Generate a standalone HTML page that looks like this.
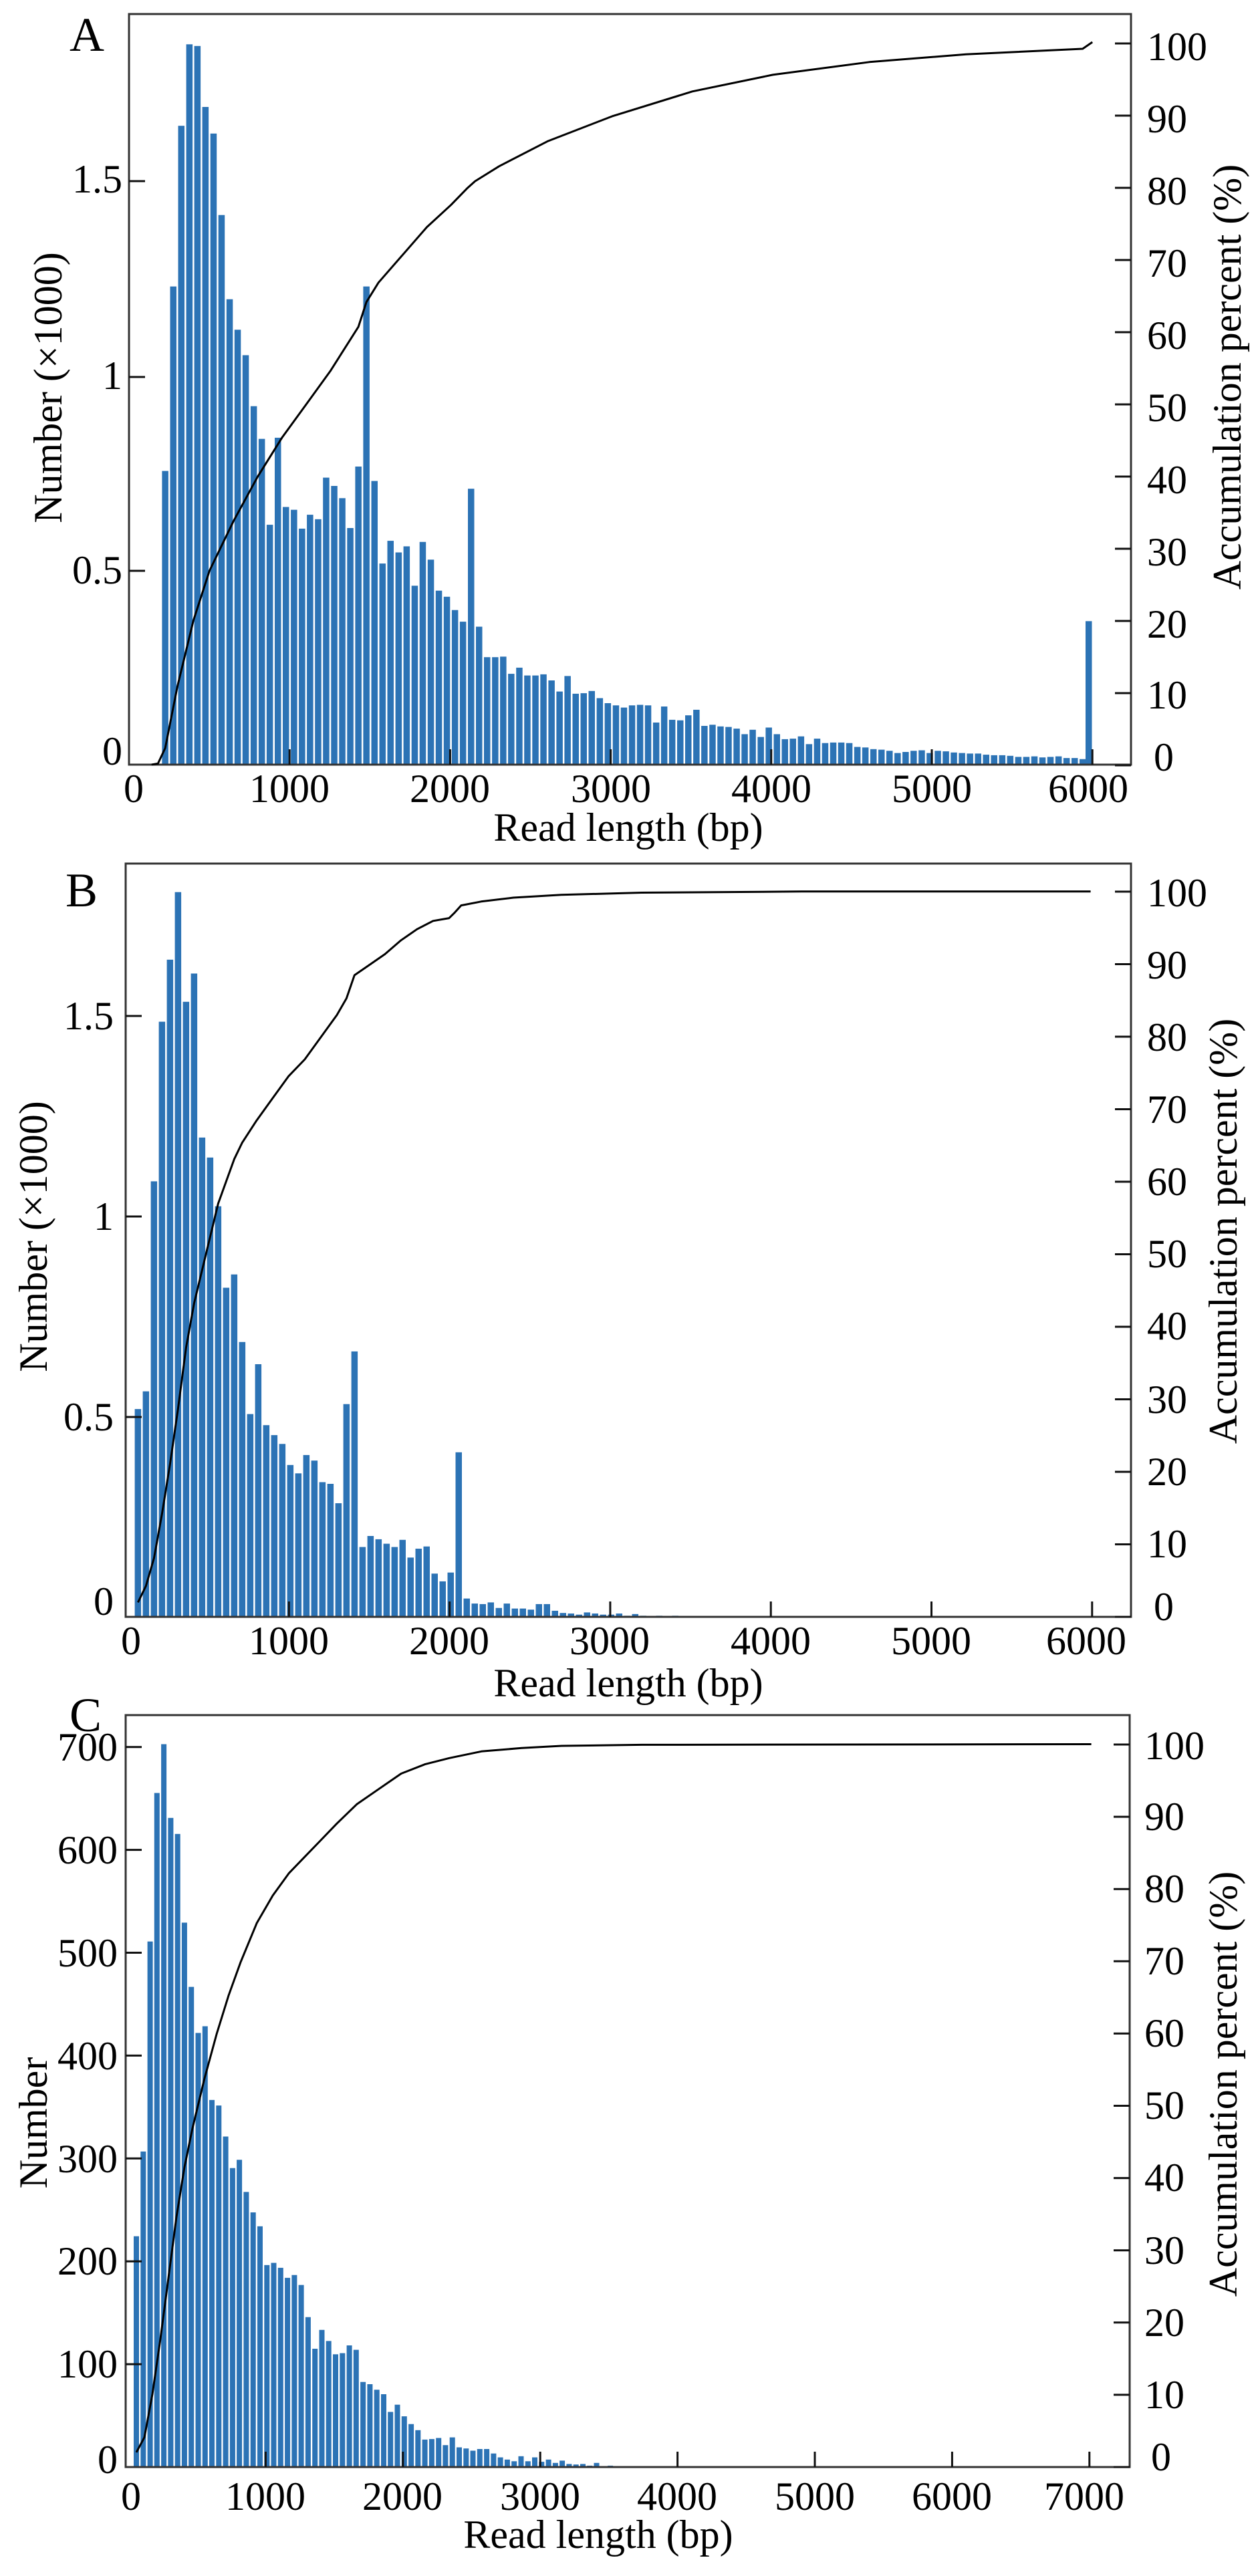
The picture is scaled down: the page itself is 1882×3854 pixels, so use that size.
<!DOCTYPE html>
<html><head><meta charset="utf-8"><style>
html,body{margin:0;padding:0;background:#fff;}
svg{display:block;}
text{font-family:"Liberation Serif",serif;fill:#000;}
</style></head><body>
<svg id="s" width="1882" height="3854" viewBox="0 0 1882 3854" xmlns="http://www.w3.org/2000/svg">
<rect width="1882" height="3854" fill="#fff"/>
<g id="bars"></g>
<g id="frames" fill="none" stroke="#333" stroke-width="3">
<rect x="193" y="21" width="1499" height="1123"/>
<rect x="188" y="1292" width="1504" height="1127"/>
<rect x="188" y="2566" width="1502" height="1125"/>
</g>
<g id="ticks" stroke="#111" stroke-width="3"></g>
<g id="curves" fill="none" stroke="#000" stroke-width="3"></g>

<!-- Panel A text -->
<text x="104" y="76" font-size="72">A</text>
<g font-size="60" text-anchor="end" dominant-baseline="central">
<text x="183" y="268">1.5</text><text x="183" y="562">1</text><text x="183" y="853">0.5</text><text x="183" y="1124">0</text>
</g>
<g font-size="60" text-anchor="start" dominant-baseline="central">
<text x="1716" y="70">100</text><text x="1716" y="178">90</text><text x="1716" y="286">80</text><text x="1716" y="394">70</text><text x="1716" y="502">60</text><text x="1716" y="610">50</text><text x="1716" y="718">40</text><text x="1716" y="826">30</text><text x="1716" y="934">20</text><text x="1716" y="1040">10</text><text x="1726" y="1133">0</text>
</g>
<g font-size="60" text-anchor="middle" dominant-baseline="central">
<text x="200" y="1180">0</text><text x="433" y="1180">1000</text><text x="673" y="1180">2000</text><text x="914" y="1180">3000</text><text x="1154" y="1180">4000</text><text x="1394" y="1180">5000</text><text x="1628" y="1180">6000</text>
</g>
<text x="940" y="1258" font-size="60" text-anchor="middle">Read length (bp)</text>
<text transform="translate(72,580) rotate(-90)" font-size="60" text-anchor="middle" dominant-baseline="central">Number (×1000)</text>
<text transform="translate(1836,564) rotate(-90)" font-size="60" text-anchor="middle" dominant-baseline="central">Accumulation percent (%)</text>

<!-- Panel B text -->
<text x="98" y="1356" font-size="72">B</text>
<g font-size="60" text-anchor="end" dominant-baseline="central">
<text x="170" y="1520">1.5</text><text x="170" y="1820">1</text><text x="170" y="2120">0.5</text><text x="170" y="2396">0</text>
</g>
<g font-size="60" text-anchor="start" dominant-baseline="central">
<text x="1716" y="1336">100</text><text x="1716" y="1444">90</text><text x="1716" y="1552">80</text><text x="1716" y="1660">70</text><text x="1716" y="1768">60</text><text x="1716" y="1876">50</text><text x="1716" y="1984">40</text><text x="1716" y="2094">30</text><text x="1716" y="2202">20</text><text x="1716" y="2310">10</text><text x="1726" y="2404">0</text>
</g>
<g font-size="60" text-anchor="middle" dominant-baseline="central">
<text x="196" y="2455">0</text><text x="432" y="2455">1000</text><text x="672" y="2455">2000</text><text x="912" y="2455">3000</text><text x="1153" y="2455">4000</text><text x="1393" y="2455">5000</text><text x="1625" y="2455">6000</text>
</g>
<text x="940" y="2538" font-size="60" text-anchor="middle">Read length (bp)</text>
<text transform="translate(50,1850) rotate(-90)" font-size="60" text-anchor="middle" dominant-baseline="central">Number (×1000)</text>
<text transform="translate(1830,1842) rotate(-90)" font-size="60" text-anchor="middle" dominant-baseline="central">Accumulation percent (%)</text>

<!-- Panel C text -->
<text x="104" y="2590" font-size="72">C</text>
<g font-size="60" text-anchor="end" dominant-baseline="central">
<text x="176" y="2614">700</text><text x="176" y="2768">600</text><text x="176" y="2922">500</text><text x="176" y="3076">400</text><text x="176" y="3230">300</text><text x="176" y="3383">200</text><text x="176" y="3537">100</text><text x="176" y="3680">0</text>
</g>
<g font-size="60" text-anchor="start" dominant-baseline="central">
<text x="1712" y="2612">100</text><text x="1712" y="2718">90</text><text x="1712" y="2826">80</text><text x="1712" y="2934">70</text><text x="1712" y="3042">60</text><text x="1712" y="3150">50</text><text x="1712" y="3258">40</text><text x="1712" y="3367">30</text><text x="1712" y="3475">20</text><text x="1712" y="3583">10</text><text x="1722" y="3676">0</text>
</g>
<g font-size="60" text-anchor="middle" dominant-baseline="central">
<text x="196" y="3735">0</text><text x="397" y="3735">1000</text><text x="602" y="3735">2000</text><text x="808" y="3735">3000</text><text x="1013" y="3735">4000</text><text x="1219" y="3735">5000</text><text x="1424" y="3735">6000</text><text x="1622" y="3735">7000</text>
</g>
<text x="895" y="3812" font-size="60" text-anchor="middle">Read length (bp)</text>
<text transform="translate(50,3176) rotate(-90)" font-size="60" text-anchor="middle" dominant-baseline="central">Number</text>
<text transform="translate(1830,3118) rotate(-90)" font-size="60" text-anchor="middle" dominant-baseline="central">Accumulation percent (%)</text>
</svg>
<script>
(function(){
var NS="http://www.w3.org/2000/svg";
var gb=document.getElementById("bars"),gt=document.getElementById("ticks"),gc=document.getElementById("curves");
function el(g,n,a){var e=document.createElementNS(NS,n);for(var k in a)e.setAttribute(k,a[k]);g.appendChild(e);return e;}
var col="#2c73b5";
function bars(zys,zx0,dzx,xf,x0z,x0r,yoff,base,w){
 for(var i=0;i<zys.length;i++){var zx=zx0+i*dzx;var cx=x0r+(zx-x0z)*xf;var top=yoff+zys[i]*0.829;
  if(base-top<1)top=base-1.5;
  el(gb,"rect",{x:(cx-w/2).toFixed(1),y:top.toFixed(1),width:w,height:(base-top).toFixed(1),fill:col});}
}
function curve(pts,xf,x0z,x0r,yoff){
 var d="";for(var i=0;i<pts.length;i++){var x=x0r+(pts[i][0]-x0z)*xf,y=yoff+pts[i][1]*0.829;d+=(i?"L":"M")+x.toFixed(1)+","+y.toFixed(1);}
 el(gc,"path",{d:d,"stroke-linejoin":"round"});
}
var A=[850,517,227,80,83,193,241,388,540,595,641,733,792,947,790,915,920,954,929,937,862,877,899,953,842,517,868,1017,976,997,986,1057,978,1010,1066,1077,1101,1122,882,1131,1186,1186,1185,1216,1205,1219,1219,1217,1228,1248,1220,1252,1251,1247,1260,1269,1273,1277,1273,1272,1273,1304,1275,1299,1300,1291,1281,1310,1308,1311,1312,1315,1325,1317,1330,1313,1325,1334,1333,1329,1343,1333,1341,1340,1340,1341,1348,1349,1352,1353,1355,1359,1357,1355,1354,1359,1355,1356,1358,1359,1360,1360,1362,1363,1363,1364,1366,1366,1365,1367,1366,1365,1368,1368,1370];
bars(A,205,10,1.204,160,193,0,1144,9.5);
el(gb,"rect",{x:1624,y:(1121*0.829).toFixed(1),width:9.5,height:(1144-1121*0.829).toFixed(1),fill:col});
curve([[188,1380],[196,1378],[205,1350],[220,1240],[240,1120],[260,1030],[290,940],[320,860],[350,790],[380,730],[410,670],[445,590],[455,545],[470,510],[500,460],[530,410],[560,370],[580,340],[590,327],[620,300],[680,255],[760,210],[860,165],[960,135],[1080,112],[1200,98],[1345,88],[1357,76]],1.204,160,193,0);
var B=[1011,979,600,312,200,78,276,225,521,557,645,792,768,890,1020,930,1040,1058,1074,1112,1127,1094,1104,1143,1146,1181,1002,907,1260,1240,1246,1254,1260,1247,1279,1263,1259,1308,1322,1306,1089,1353,1362,1363,1360,1370,1362,1371,1371,1373,1363,1363,1375,1379,1380,1382,1378,1380,1382,1382,1380,1384,1381,1384,1385,1384,1385,1384,1385];
bars(B,172,10,1.1997,160,192,1270,2419,9.5);
curve([[172,1360],[182,1330],[192,1280],[202,1200],[212,1110],[222,1010],[232,900],[242,820],[252,760],[262,700],[272,640],[282,600],[292,560],[302,530],[320,490],[340,450],[360,410],[380,380],[400,340],[420,300],[432,270],[442,228],[460,210],[480,190],[500,165],[520,145],[540,130],[560,125],[567,115],[575,102],[600,95],[640,88],[700,83],[800,79],[1000,77],[1360,77]],1.1997,160,192,1270);
var C=[955,802,423,155,67,200,229,389,505,588,576,709,719,775,832,817,875,912,937,1007,1003,1012,1030,1025,1043,1101,1158,1124,1144,1168,1166,1152,1160,1218,1222,1232,1240,1272,1259,1280,1294,1305,1322,1321,1319,1332,1318,1336,1338,1342,1339,1339,1347,1354,1358,1361,1352,1361,1354,1362,1358,1364,1360,1366,1367,1366,1369,1364,1370,1369,1370,1370,1371,1370,1371,1371,1370,1371];
bars(C,170,8.56,1.2005,160,192,2554,3691,8);
curve([[170,1345],[180,1318],[190,1240],[200,1140],[210,1030],[220,920],[230,830],[240,760],[255,670],[270,590],[285,520],[300,460],[320,390],[340,340],[360,300],[380,270],[400,240],[420,210],[445,175],[470,150],[500,120],[530,103],[560,92],[600,80],[650,74],[700,70],[800,68],[1360,67]],1.2005,160,192,2554);
function tk(x1,y1,x2,y2){el(gt,"line",{x1:x1,y1:y1,x2:x2,y2:y2});}
var i;
for(i=1;i<=6;i++){var x=193+240.2*i;tk(x,1144,x,1121);}
tk(193,271,217,271);tk(193,564,217,564);tk(193,854,217,854);
for(i=0;i<=10;i++){var y=1145-108*i;tk(1668,y,1692,y);}
for(i=1;i<=6;i++){var x=192+240.3*i;tk(x,2419,x,2396);}
tk(188,1520,212,1520);tk(188,1820,212,1820);tk(188,2120,212,2120);
for(i=0;i<=10;i++){var y=2419-108.5*i;tk(1668,y,1692,y);}
for(i=1;i<=7;i++){var x=192+205.4*i;tk(x,3691,x,3668);}
for(i=1;i<=7;i++){var y=3691-153.9*i;tk(188,y,212,y);}
for(i=0;i<=10;i++){var y=3691-108.1*i;tk(1666,y,1690,y);}
})();
</script>
</body></html>
